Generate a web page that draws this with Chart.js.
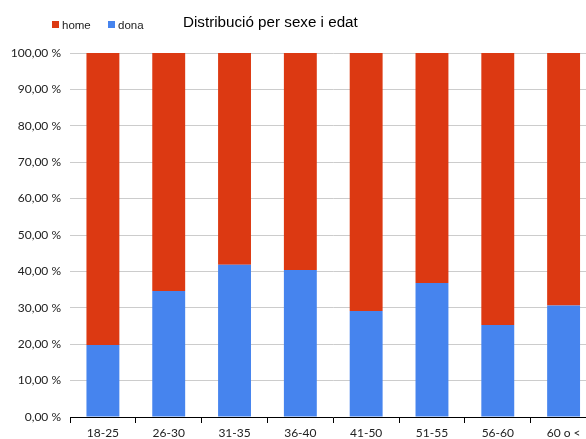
<!DOCTYPE html>
<html>
<head>
<meta charset="utf-8">
<script src="https://cdn.jsdelivr.net/npm/chart.js@4/dist/chart.umd.min.js"></script>
<style>
html,body{margin:0;padding:0;background:#fff;overflow:hidden;}
#wrap{position:relative;width:600px;height:439px;}
</style>
</head>
<body>
<div id="wrap"><canvas id="c" width="600" height="439"></canvas></div>
<script>
const chartTitle = 'Distribució per sexe i edat';
const categories = ['18-25', '26-30', '31-35', '36-40', '41-50', '51-55', '56-60', '60 o <'];
const donaValues = [19.8, 34.6, 41.8, 40.4, 29.1, 36.8, 25.3, 30.6];
const homeValues = [80.2, 65.4, 58.2, 59.6, 70.9, 63.2, 74.7, 69.4];
const yTickLabels = ['0,00 %', '10,00 %', '20,00 %', '30,00 %', '40,00 %', '50,00 %', '60,00 %', '70,00 %', '80,00 %', '90,00 %', '100,00 %'];

const RED = '#DC3912';
const BLUE = '#4684EE';

const headerPlugin = {
  id: 'header',
  afterDraw(chart) {
    const ctx = chart.ctx;
    ctx.save();
    ctx.font = '11.5px "Liberation Sans", Arial, sans-serif';
    ctx.textBaseline = 'alphabetic';
    ctx.textAlign = 'left';
    const items = chart.data.datasets.slice().reverse();
    let x = 52;
    items.forEach(ds => {
      ctx.fillStyle = ds.backgroundColor;
      ctx.fillRect(x, 21, 7, 7);
      ctx.fillStyle = '#222';
      ctx.fillText(ds.label, x + 10, 28.5);
      x += 56;
    });
    ctx.font = '15.2px "Liberation Sans", Arial, sans-serif';
    ctx.fillStyle = '#000';
    ctx.fillText(chartTitle, 183, 27);
    ctx.restore();
  }
};

new Chart(document.getElementById('c'), {
  type: 'bar',
  data: {
    labels: categories,
    datasets: [
      { label: 'dona', data: donaValues, backgroundColor: BLUE, barPercentage: 1, categoryPercentage: 0.5 },
      { label: 'home', data: homeValues, backgroundColor: RED, barPercentage: 1, categoryPercentage: 0.5 }
    ]
  },
  options: {
    responsive: false,
    animation: false,
    layout: { padding: { top: 53, right: 3.5, left: 0, bottom: 0 } },
    plugins: {
      legend: { display: false },
      title: { display: false },
      tooltip: { enabled: false }
    },
    scales: {
      x: {
        stacked: true,
        offset: true,
        afterFit(scale) { scale.height = 22; },
        grid: { display: true, offset: true, drawOnChartArea: false, drawTicks: true, tickLength: 6, color: '#000', lineWidth: 1 },
        border: { display: true, color: '#000', width: 1 },
        ticks: { color: '#222', font: { family: 'Lato', size: 12 }, padding: 3, maxRotation: 0, autoSkip: false }
      },
      y: {
        stacked: true,
        min: 0,
        max: 100,
        afterFit(scale) { scale.width = 70; },
        grid: { color: '#cccccc', lineWidth: 1, drawTicks: false },
        border: { display: false },
        ticks: {
          stepSize: 10,
          color: '#222',
          padding: 9,
          font: { family: 'Lato', size: 12 },
          callback: (v, i) => yTickLabels[i]
        }
      }
    }
  },
  plugins: [headerPlugin]
});
</script>
</body>
</html>
